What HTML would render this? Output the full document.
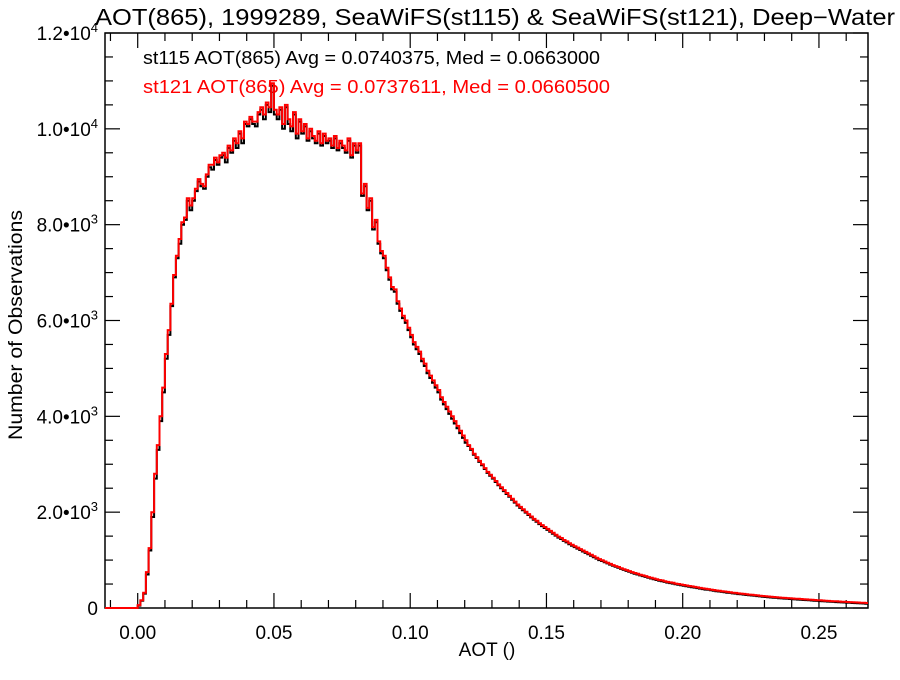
<!DOCTYPE html>
<html><head><meta charset="utf-8"><style>
body{margin:0;background:#fff}
svg text{font-family:"Liberation Sans",Helvetica,sans-serif}
</style></head><body>
<svg id="chart" width="900" height="675" xmlns="http://www.w3.org/2000/svg">
<rect width="900" height="675" fill="#fff"/>
<text x="95" y="25" font-size="23" textLength="800" lengthAdjust="spacingAndGlyphs">AOT(865), 1999289, SeaWiFS(st115) &amp; SeaWiFS(st121), Deep−Water</text>
<text x="143" y="64" font-size="18" textLength="457" lengthAdjust="spacingAndGlyphs">st115 AOT(865) Avg = 0.0740375, Med = 0.0663000</text>
<text x="143" y="93" font-size="18" textLength="467" lengthAdjust="spacingAndGlyphs" fill="#ff0000">st121 AOT(865) Avg = 0.0737611, Med = 0.0660500</text>
<text transform="translate(22,325) rotate(-90)" font-size="19" text-anchor="middle" textLength="230" lengthAdjust="spacingAndGlyphs">Number of Observations</text>
<text x="487" y="656" font-size="19" text-anchor="middle">AOT ()</text>
<g id="axes"></g>
<path id="s115" fill="none" stroke="#000" stroke-width="2"/>
<path id="s121" fill="none" stroke="#ff0000" stroke-width="2"/>
</svg>
<script>
const binStart = 0.0;
const binWidth = 0.001;
const st115 = [50,150,300,700,1200,1900,2700,3300,3900,4500,
5200,5700,6300,6900,7300,7600,8000,8100,8500,8300,
8500,8700,8900,8800,8750,9000,9200,9150,9350,9250,
9400,9450,9300,9600,9500,9750,9600,9900,9700,10100,
10050,10200,10100,10050,10300,10400,10200,10500,10350,10900,
10300,10200,10400,10000,10450,10100,9950,10300,9800,10150,
9900,10050,9750,9950,9800,9700,9900,9650,9850,9700,
9750,9600,9800,9550,9700,9600,9500,9750,9400,9650,
9500,9650,8600,8800,8300,8500,7900,8050,7600,7400,
7300,7050,6850,6650,6600,6350,6200,6050,5950,5800,
5650,5500,5400,5300,5150,5050,4900,4800,4700,4600,
4500,4350,4250,4150,4050,3950,3850,3750,3650,3550,
3450,3380,3300,3200,3130,3050,2980,2900,2820,2760,
2700,2630,2560,2500,2440,2380,2320,2260,2200,2140,
2090,2040,1990,1940,1890,1840,1800,1750,1710,1670,
1630,1590,1550,1510,1470,1440,1400,1370,1330,1300,
1270,1240,1210,1180,1150,1120,1090,1060,1030,1000,
980,955,930,905,880,860,840,815,795,775,
755,735,715,700,680,665,650,630,615,600,
585,570,560,545,530,520,510,495,485,475,
465,455,445,435,425,415,405,395,385,380,
370,360,350,345,335,330,320,315,305,300,
290,285,280,272,265,260,255,248,242,236,
230,225,220,215,210,205,200,196,192,188,
184,180,176,172,168,164,160,156,152,148,
145,141,137,134,130,127,124,120,117,114,
111,108,105,102,99,96,93,90];
const st121 = [60,160,320,750,1250,2000,2800,3400,4000,4600,
5300,5800,6350,6950,7350,7700,8050,8150,8550,8400,
8550,8750,8950,8850,8800,9050,9250,9250,9400,9300,
9450,9500,9400,9650,9550,9800,9700,9950,9800,10150,
10100,10250,10150,10150,10350,10450,10300,10550,10450,10950,
10400,10300,10450,10100,10500,10200,10050,10350,9900,10200,
9950,10100,9800,10000,9850,9750,9950,9700,9900,9750,
9800,9650,9850,9600,9750,9650,9550,9800,9450,9700,
9550,9700,8650,8850,8350,8550,7950,8100,7650,7450,
7350,7100,6900,6700,6650,6400,6250,6100,6000,5850,
5700,5550,5450,5350,5200,5100,4950,4850,4750,4650,
4550,4400,4300,4200,4100,4000,3900,3800,3700,3600,
3500,3400,3320,3220,3150,3070,3000,2920,2840,2780,
2720,2650,2580,2520,2460,2400,2340,2280,2220,2160,
2110,2060,2010,1960,1910,1860,1820,1770,1730,1690,
1650,1610,1570,1530,1490,1460,1420,1390,1350,1320,
1290,1260,1230,1200,1170,1140,1110,1080,1050,1020,
995,970,945,920,895,875,855,830,810,790,
770,750,730,715,695,680,665,645,630,615,
600,585,575,560,545,535,525,510,500,490,
480,470,460,450,440,430,420,410,400,395,
385,375,365,360,350,345,335,330,320,315,
305,300,295,287,280,275,270,263,257,251,
245,240,235,230,225,220,215,211,207,203,
199,195,191,187,183,179,175,171,167,163,
160,156,152,149,145,142,139,135,132,129,
126,123,120,117,114,111,108,105];
const xTicks = [0.00,0.05,0.10,0.15,0.20,0.25];
const xTickLabels = ["0.00","0.05","0.10","0.15","0.20","0.25"];
const yTicks = [0,2000,4000,6000,8000,10000,12000];
const yTickMant = ["0","2.0","4.0","6.0","8.0","1.0","1.2"];
const yTickExp = ["","3","3","3","3","4","4"];

const X0=105,X1=868,Y0=608,Y1=33,XMIN=-0.012,XMAX=0.268,YMIN=0,YMAX=12000;
const xs=v=>X0+(v-XMIN)/(XMAX-XMIN)*(X1-X0);
const ys=v=>Y0-(v-YMIN)/(YMAX-YMIN)*(Y0-Y1);
const NS="http://www.w3.org/2000/svg";
const axes=document.getElementById('axes');
function mk(tag,attrs){const e=document.createElementNS(NS,tag);for(const k in attrs)e.setAttribute(k,attrs[k]);axes.appendChild(e);return e;}
const frame=mk('rect',{x:X0,y:Y1,width:X1-X0,height:Y0-Y1,fill:'none',stroke:'#000','stroke-width':1.5});


for(let i=-1;i<=26;i++){const v=i*0.01;if(v<XMIN||v>XMAX)continue;const x=xs(v);const major=i%5===0;const L=major?15:8;
 const t1=mk('line',{x1:x,x2:x,y1:Y0,y2:Y0-L,stroke:'#000','stroke-width':1.2});
 
 
 const t2=mk('line',{x1:x,x2:x,y1:Y1,y2:Y1+L,stroke:'#000','stroke-width':1.2});
 
 }
xTicks.forEach((v,i)=>{const t=mk('text',{x:xs(v),y:639,'font-size':19,'text-anchor':'middle'});t.textContent=xTickLabels[i];
 
 });
for(let v=0;v<=12000;v+=500){const y=ys(v);const major=v%2000===0;const L=major?15:8;
 const t1=mk('line',{x1:X0,x2:X0+L,y1:y,y2:y,stroke:'#000','stroke-width':1.2});
 
 
 const t2=mk('line',{x1:X1,x2:X1-L,y1:y,y2:y,stroke:'#000','stroke-width':1.2});
 
 }
yTicks.forEach((v,i)=>{const t=mk('text',{x:98,y:ys(v)+7,'font-size':19,'text-anchor':'end'});
 if(yTickExp[i]){t.textContent=yTickMant[i]+"•10";const s=document.createElementNS(NS,'tspan');s.setAttribute('dy','-8');s.setAttribute('font-size','13');s.textContent=yTickExp[i];t.appendChild(s);}
 else t.textContent=yTickMant[i];
 
 });
function stepPath(arr){let d=`M${xs(XMIN)},${ys(0)}H${xs(binStart)}`;arr.forEach((v,i)=>{d+=`V${ys(v).toFixed(1)}H${xs(binStart+(i+1)*binWidth).toFixed(1)}`;});return d;}
document.getElementById('s115').setAttribute('d',stepPath(st115));
document.getElementById('s121').setAttribute('d',stepPath(st121));
</script>
</body></html>
